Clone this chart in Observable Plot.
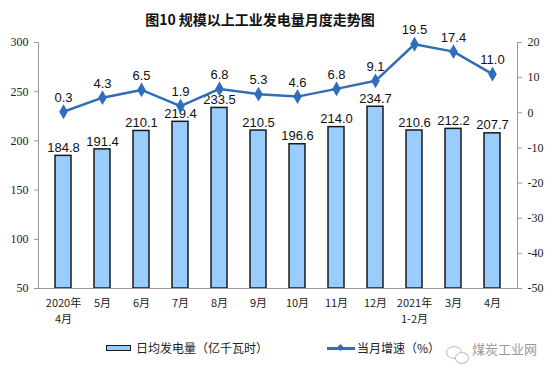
<!DOCTYPE html>
<html><head><meta charset="utf-8">
<script src="https://cdn.jsdelivr.net/npm/d3@7"></script>
<script src="https://cdn.jsdelivr.net/npm/@observablehq/plot@0.6"></script>
<style>
body{margin:0;background:#fff;}
#wrap{position:relative;width:554px;height:381px;overflow:hidden;font-family:"Noto Sans CJK SC",sans-serif;}
#title{position:absolute;left:0;top:9px;width:520px;text-align:center;font-size:14px;font-weight:bold;color:#111;line-height:20px;}
#chart{position:absolute;left:0;top:0;}
.lg{position:absolute;font-size:12px;color:#222;line-height:16px;white-space:nowrap;}
</style></head><body>
<div id="wrap">
<div id="chart"></div>
<div id="title">图10 规模以上工业发电量月度走势图</div>
<div style="position:absolute;left:106px;top:345px;width:23px;height:4px;background:#99ccff;border:1.5px solid #1a1a1a;"></div>
<div class="lg" style="left:136px;top:340px;">日均发电量（亿千瓦时）</div>
<div style="position:absolute;left:327px;top:347px;width:28px;height:2.5px;background:#2f6eba;"></div>
<div style="position:absolute;left:338px;top:345px;width:5px;height:5px;background:#2f6eba;transform:rotate(45deg);"></div>
<div class="lg" style="left:357px;top:340px;">当月增速（%）</div>
<div style="position:absolute;left:446px;top:346px;width:14px;height:11px;border:1px solid #bbb;border-radius:50%;"></div>
<div style="position:absolute;left:455px;top:352px;width:12px;height:10px;border:1px solid #bbb;border-radius:50%;background:#fff;"></div>
<div class="lg" style="left:472px;top:341px;font-size:13px;color:#999;">煤炭工业网</div>
</div>
<script>
const months = ["2020年\n4月","5月","6月","7月","8月","9月","10月","11月","12月","2021年\n1-2月","3月","4月"];
const output = [184.8,191.4,210.1,219.4,233.5,210.5,196.6,214.0,234.7,210.6,212.2,207.7];
const growth = [0.3,4.3,6.5,1.9,6.8,5.3,4.6,6.8,9.1,19.5,17.4,11.0];
const leftTicks = [50,100,150,200,250,300];
const rightTicks = [-50,-40,-30,-20,-10,0,10,20];

const L0 = 50, L1 = 300, R0 = -50, R1 = 20;
const toLeft = g => L0 + (g - R0) * (L1 - L0) / (R1 - R0);
const toRight = v => R0 + (v - L0) * (R1 - R0) / (L1 - L0);

const data = months.map((m, i) => ({m, v: output[i], g: growth[i], gy: toLeft(growth[i])}));

const blue = "#2f6eba";
const plot = Plot.plot({
  width: 554, height: 340,
  marginTop: 42, marginBottom: 52, marginLeft: 38, marginRight: 37,
  style: {background: "transparent", overflow: "visible"},
  x: {type: "band", domain: months, paddingInner: 0.6, paddingOuter: 0.3},
  y: {domain: [L0, L1]},
  marks: [
    Plot.barY(data, {x: "m", y1: L0, y2: "v", fill: "#99ccff", stroke: "#1a1a1a", strokeWidth: 1.5}),
    Plot.text(data, {x: "m", y: "v", text: d => d.v.toFixed(1), dy: -8, fontSize: 13, fontFamily: "Liberation Sans, Arial, sans-serif", fill: "#111"}),
    Plot.line(data, {x: "m", y: "gy", stroke: blue, strokeWidth: 2.5}),
    Plot.dot(data, {x: "m", y: "gy", symbol: "diamond", r: 4.5, fill: blue, stroke: "none"}),
    Plot.text(data, {x: "m", y: "gy", text: d => d.g.toFixed(1), dy: -14, fontSize: 13, fontFamily: "Liberation Sans, Arial, sans-serif", fill: "#111"}),
    Plot.ruleY([L0], {stroke: "#999", strokeWidth: 1}),
    Plot.frame({anchor: "left", stroke: "#999"}),
    Plot.frame({anchor: "right", stroke: "#999"}),
    Plot.axisY(leftTicks, {anchor: "left", tickSize: 4, tickPadding: 6, stroke: "#999", color: "#222", label: null}),
    Plot.axisY(rightTicks.map(toLeft), {anchor: "right", tickSize: 4, tickPadding: 6, stroke: "#999", color: "#222", tickFormat: v => String(Math.round(toRight(v))), label: null}),
    Plot.axisX({anchor: "bottom", tickSize: 0, tickPadding: 8, fontSize: 11, lineHeight: 1.4, fontFamily: "Noto Sans CJK SC, sans-serif", color: "#222", label: null})
  ]
});
document.getElementById("chart").appendChild(plot);
plot.querySelectorAll('g[aria-label*="y-axis"] text').forEach(t => {
  t.setAttribute("font-family", "Liberation Serif, DejaVu Serif, serif");
  t.style.fontFamily = '"Liberation Serif", "DejaVu Serif", serif';
  t.style.fontSize = "12px";
});
</script>
</body></html>
